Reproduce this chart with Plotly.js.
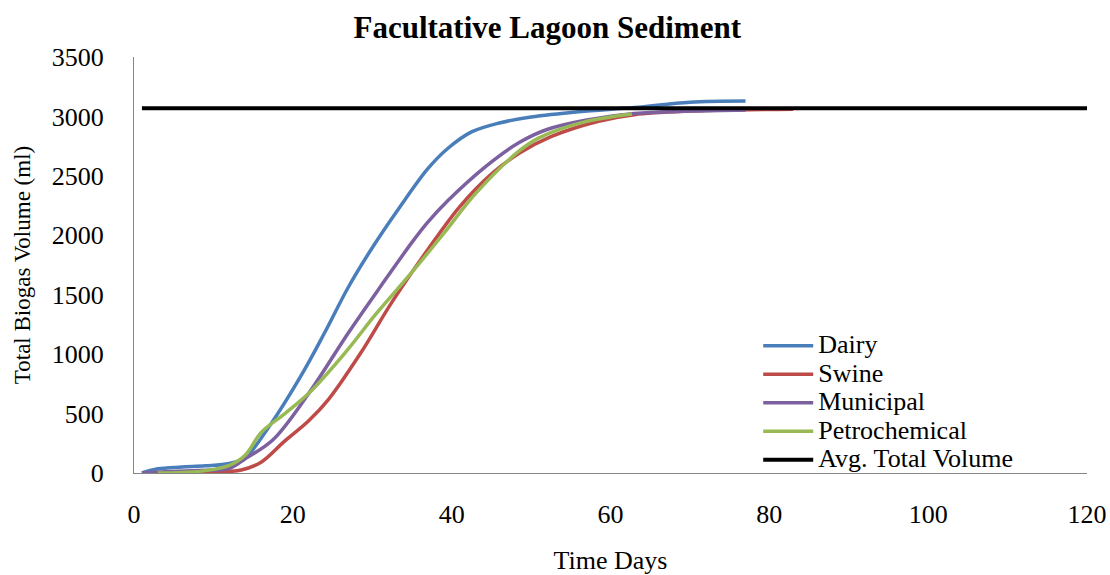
<!DOCTYPE html>
<html>
<head>
<meta charset="utf-8">
<script src="https://cdn.plot.ly/plotly-3.0.1.min.js"></script>
<style>
  html, body { margin: 0; padding: 0; background: #fff; }
  #chart { width: 1110px; height: 575px; }
</style>
</head>
<body>
<div id="chart"></div>
<script>
// Valores (días, ml)
const diasDairy = [1, 3, 6, 9, 12, 14, 17, 21, 24, 27, 30, 33.5, 37, 39.5, 42.5, 46, 50, 56, 63, 70, 77];
const volDairy  = [0, 35, 50, 60, 80, 130, 390, 815, 1180, 1565, 1895, 2240, 2560, 2730, 2870, 2945, 2995, 3040, 3075, 3120, 3130];

const diasSwine = [1, 4, 8, 11, 13.5, 16, 19, 22, 24.5, 28.5, 32.5, 37, 41, 45, 48.5, 52.5, 58.5, 63, 70, 76, 83];
const volSwine  = [0, 2, 5, 10, 25, 90, 270, 440, 620, 1005, 1440, 1880, 2240, 2515, 2690, 2830, 2960, 3015, 3045, 3055, 3060];

const diasMunicipal = [1, 4, 8, 12, 14, 17.5, 22, 27, 31, 35, 37, 39.5, 44.5, 48.5, 52, 57, 63, 70, 77];
const volMunicipal  = [0, 10, 20, 40, 120, 280, 670, 1180, 1565, 1940, 2110, 2290, 2590, 2780, 2890, 2970, 3025, 3045, 3055];

const diasPetro = [3, 6, 9, 12, 14, 16, 19, 22, 26.5, 30.5, 35, 39, 43, 48.5, 51, 56.5, 62.7];
const volPetro  = [0, 5, 20, 65, 150, 340, 500, 670, 1005, 1340, 1690, 2015, 2350, 2710, 2820, 2950, 3020];

const diasPromedio = [1, 120];
const volPromedio  = [3068, 3068];

const nombres = ['Dairy', 'Swine', 'Municipal', 'Petrochemical', 'Avg. Total Volume'];

const fuente = 'Liberation Serif, "Times New Roman", serif';

function serie(x, y, nombre, color, ancho) {
    return {
        x: x,
        y: y,
        // texto grande en la leyenda pero con el espaciado compacto de Excel
        name: '<span style="font-size:26px">' + nombre + '</span>',
        type: 'scatter',
        mode: 'lines',
        line: { color: color, width: ancho, shape: 'spline', smoothing: 1 }
    };
}

const trazas = [
    serie(diasDairy, volDairy, nombres[0], '#4A7EBB', 3.5),
    serie(diasSwine, volSwine, nombres[1], '#BE4B48', 3.5),
    serie(diasMunicipal, volMunicipal, nombres[2], '#7D60A0', 3.5),
    serie(diasPetro, volPetro, nombres[3], '#98B954', 3.5),
    serie(diasPromedio, volPromedio, nombres[4], '#000000', 4)
];

const layout = {
    width: 1110,
    height: 575,
    margin: { l: 134, r: 23, t: 57, b: 102 },
    paper_bgcolor: '#ffffff',
    plot_bgcolor: '#ffffff',
    font: { family: fuente, size: 26, color: '#000' },
    title: {
        text: '<b>Facultative Lagoon Sediment</b>',
        font: { family: fuente, size: 31, color: '#000' },
        x: 0.493, xanchor: 'center',
        y: 0.952, yanchor: 'middle'
    },
    xaxis: {
        range: [0, 120],
        dtick: 20,
        showgrid: false,
        zeroline: false,
        showline: true,
        linecolor: '#868686',
        linewidth: 1,
        ticks: '',
        ticklabelstandoff: 18,
        tickfont: { family: fuente, size: 26 },
        title: { text: 'Time Days', font: { family: fuente, size: 26 }, standoff: 22 }
    },
    yaxis: {
        range: [0, 3500],
        dtick: 500,
        showgrid: false,
        zeroline: false,
        showline: true,
        linecolor: '#868686',
        linewidth: 1,
        ticks: '',
        ticklabelstandoff: 24,
        tickfont: { family: fuente, size: 26 },
        title: { text: 'Total Biogas Volume (ml)', font: { family: fuente, size: 23 }, standoff: 14 }
    },
    showlegend: true,
    legend: {
        x: 0.655, y: 0.352,
        xanchor: 'left', yanchor: 'top',
        bgcolor: 'rgba(0,0,0,0)',
        font: { family: fuente, size: 19.6 },
        tracegroupgap: 0,
        itemwidth: 50
    }
};

Plotly.newPlot('chart', trazas, layout, { displayModeBar: false, staticPlot: true });
</script>
</body>
</html>
